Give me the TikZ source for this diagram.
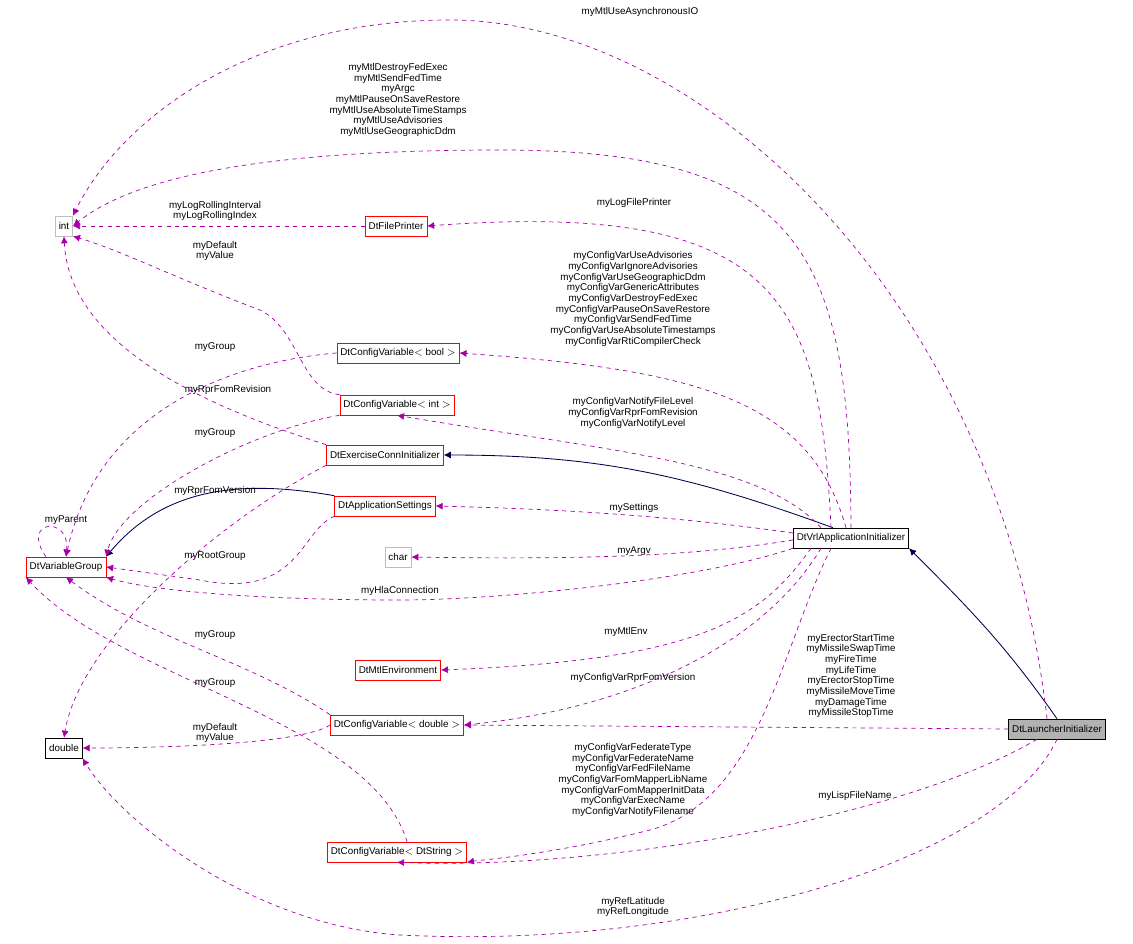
\documentclass[tikz,border=0pt]{standalone}
\usepackage{fontspec}
\setmainfont{Liberation Sans}
\usetikzlibrary{arrows.meta,positioning}

\tikzset{
  cls/.style={draw=red,fill=white,inner sep=2.5pt,minimum height=0.5cm,font=\fontsize{7}{8}\selectfont},
  plain/.style={cls,draw=black},
  ext/.style={cls,draw=gray!50},
  use/.style={-{Latex[length=5pt,width=5pt]},dashed,color=violet!70!magenta,line width=0.5pt},
  inh/.style={-{Latex[length=5pt,width=5pt]},color=blue!30!black,line width=0.6pt},
  lbl/.style={align=center,font=\fontsize{7}{7.6}\selectfont,inner sep=0pt}
}

\begin{document}
\begin{tikzpicture}[x=0.025cm,y=-0.025cm]
  \useasboundingbox (0,0) rectangle (1133,943);

  % classes
  \node[ext] (int) at (64,226) {int};
  \node[cls] (printer) at (396,226) {DtFilePrinter};
  \node[cls] (cbool) at (398,353) {DtConfigVariable$<$ bool $>$};
  \node[cls] (cint) at (397,405) {DtConfigVariable$<$ int $>$};
  \node[cls] (exconn) at (385,455) {DtExerciseConnInitializer};
  \node[cls] (appset) at (385,506) {DtApplicationSettings};
  \node[ext] (char) at (398,557) {char};
  \node[cls] (vgroup) at (66,567) {DtVariableGroup};
  \node[plain] (vrl) at (851,538) {DtVrlApplicationInitializer};
  \node[cls] (mtlenv) at (398,670) {DtMtlEnvironment};
  \node[cls] (cdouble) at (397,725) {DtConfigVariable$<$ double $>$};
  \node[plain] (double) at (64,748) {double};
  \node[cls] (cstring) at (397,852) {DtConfigVariable$<$ DtString $>$};
  \node[plain,fill=gray!60] (launcher) at (1057,729) {DtLauncherInitializer};

  % inheritance
  \draw[inh] (vrl.north west) ++(40,0) to[out=160,in=0] (exconn.east);
  \draw[inh] (launcher.north) to[out=125,in=-45] (vrl.south east);
  \draw[inh] (appset.north west) ++(0,0) to[out=170,in=50] (vgroup.north east);

  % members
  \draw[use] (launcher.north) ++(-10,0) .. controls (1000,300) and (700,20) .. (450,20) .. controls (250,20) and (120,120) .. (int.north east);
  \draw[use] (vrl.north) .. controls (850,250) and (800,150) .. (500,150) .. controls (250,150) and (130,180) .. (int.east);
  \draw[use] (printer.west) -- (int.east);
  \draw[use] (cint.north west) .. controls (300,390) and (300,330) .. (260,310) .. controls (180,280) and (120,250) .. (int.south east);
  \draw[use] (exconn.north west) .. controls (250,420) and (70,360) .. (int.south);
  \draw[use] (vrl.north) ++(-20,0) .. controls (820,300) and (780,200) .. (printer.east);
  \draw[use] (vrl.north) ++(-5,0) .. controls (810,400) and (700,370) .. (cbool.east);
  \draw[use] (vrl.north) ++(-30,0) .. controls (760,460) and (600,450) .. (cint.south);
  \draw[use] (vrl.west) ++(0,-5) .. controls (700,520) and (600,510) .. (appset.east);
  \draw[use] (vrl.west) ++(0,2) .. controls (700,555) and (600,560) .. (char.east);
  \draw[use] (vrl.south west) .. controls (700,580) and (500,600) .. (400,600) .. controls (250,600) and (150,590) .. (vgroup.south east);
  \draw[use] (vrl.south) ++(-40,0) .. controls (760,620) and (700,660) .. (mtlenv.east);
  \draw[use] (vrl.south) ++(-30,0) .. controls (760,650) and (620,710) .. (cdouble.east);
  \draw[use] (vrl.south) ++(-20,0) .. controls (780,650) and (760,800) .. (650,830) .. controls (550,855) and (480,860) .. (cstring.south east);
  \draw[use] (launcher.west) -- (cdouble.east);
  \draw[use] (launcher.south) ++(-20,0) .. controls (900,820) and (600,870) .. (cstring.south);
  \draw[use] (launcher.south) .. controls (1000,860) and (700,950) .. (400,935) .. controls (250,925) and (120,820) .. (double.south east);
  \draw[use] (cbool.west) .. controls (250,360) and (100,400) .. (vgroup.north);
  \draw[use] (cint.south west) .. controls (250,430) and (120,500) .. (vgroup.north east);
  \draw[use] (exconn.south west) .. controls (220,520) and (80,640) .. (double.north);
  \draw[use] (appset.south west) .. controls (300,530) and (300,600) .. (200,580) -- (vgroup.east);
  \draw[use] (vgroup.north) ++(-20,0) .. controls (20,520) and (70,515) .. (vgroup.north);
  \draw[use] (cdouble.north west) .. controls (250,660) and (150,640) .. (vgroup.south);
  \draw[use] (cdouble.west) .. controls (300,745) and (150,748) .. (double.east);
  \draw[use] (cstring.north west) ++(80,0) .. controls (370,720) and (120,680) .. (vgroup.south west);

  % labels
  \node[lbl] at (640,12) {myMtlUseAsynchronousIO};
  \node[lbl] at (398,100) {myMtlDestroyFedExec\\myMtlSendFedTime\\myArgc\\myMtlPauseOnSaveRestore\\myMtlUseAbsoluteTimeStamps\\myMtlUseAdvisories\\myMtlUseGeographicDdm};
  \node[lbl] at (215,211) {myLogRollingInterval\\myLogRollingIndex};
  \node[lbl] at (215,251) {myDefault\\myValue};
  \node[lbl] at (228,390) {myRprFomRevision};
  \node[lbl] at (634,203) {myLogFilePrinter};
  \node[lbl] at (633,299) {myConfigVarUseAdvisories\\myConfigVarIgnoreAdvisories\\myConfigVarUseGeographicDdm\\myConfigVarGenericAttributes\\myConfigVarDestroyFedExec\\myConfigVarPauseOnSaveRestore\\myConfigVarSendFedTime\\myConfigVarUseAbsoluteTimestamps\\myConfigVarRtiCompilerCheck};
  \node[lbl] at (633,413) {myConfigVarNotifyFileLevel\\myConfigVarRprFomRevision\\myConfigVarNotifyLevel};
  \node[lbl] at (634,508) {mySettings};
  \node[lbl] at (634,551) {myArgv};
  \node[lbl] at (400,591) {myHlaConnection};
  \node[lbl] at (626,632) {myMtlEnv};
  \node[lbl] at (633,678) {myConfigVarRprFomVersion};
  \node[lbl] at (633,780) {myConfigVarFederateType\\myConfigVarFederateName\\myConfigVarFedFileName\\myConfigVarFomMapperLibName\\myConfigVarFomMapperInitData\\myConfigVarExecName\\myConfigVarNotifyFilename};
  \node[lbl] at (851,676) {myErectorStartTime\\myMissileSwapTime\\myFireTime\\myLifeTime\\myErectorStopTime\\myMissileMoveTime\\myDamageTime\\myMissileStopTime};
  \node[lbl] at (855,796) {myLispFileName};
  \node[lbl] at (633,907) {myRefLatitude\\myRefLongitude};
  \node[lbl] at (215,347) {myGroup};
  \node[lbl] at (215,433) {myGroup};
  \node[lbl] at (215,491) {myRprFomVersion};
  \node[lbl] at (215,556) {myRootGroup};
  \node[lbl] at (66,520) {myParent};
  \node[lbl] at (215,635) {myGroup};
  \node[lbl] at (215,683) {myGroup};
  \node[lbl] at (215,733) {myDefault\\myValue};
\end{tikzpicture}
\end{document}
